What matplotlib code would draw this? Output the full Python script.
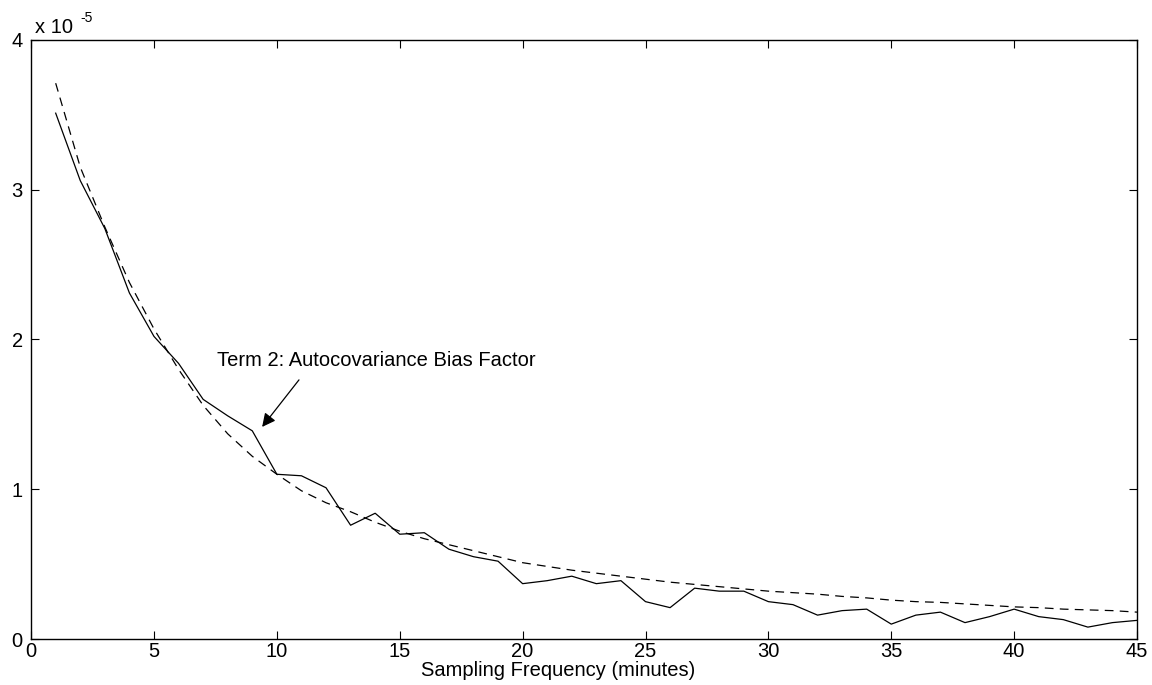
import matplotlib
matplotlib.use('Agg')
import matplotlib.pyplot as plt

plt.rcParams['font.family'] = ['Liberation Sans', 'DejaVu Sans']

# sampling interval in minutes
minutes = list(range(1, 46))

# Term 2 estimate (x 1e-5), solid line
term2 = [3.51, 3.06, 2.74, 2.31, 2.02, 1.84, 1.60, 1.49, 1.39, 1.10,
         1.09, 1.01, 0.76, 0.84, 0.70, 0.71, 0.60, 0.55, 0.52, 0.37,
         0.39, 0.42, 0.37, 0.39, 0.25, 0.21, 0.34, 0.32, 0.32, 0.25,
         0.23, 0.16, 0.19, 0.20, 0.10, 0.16, 0.18, 0.11, 0.15, 0.20,
         0.15, 0.13, 0.08, 0.11, 0.125]

# fitted curve (x 1e-5), dashed line
fitted = [3.71, 3.15, 2.75, 2.38, 2.07, 1.80, 1.56, 1.37, 1.22, 1.10,
          0.99, 0.91, 0.85, 0.78, 0.72, 0.67, 0.63, 0.59, 0.55, 0.51,
          0.485, 0.46, 0.44, 0.42, 0.40, 0.38, 0.365, 0.35, 0.335, 0.32,
          0.31, 0.30, 0.285, 0.275, 0.26, 0.25, 0.245, 0.235, 0.225, 0.215,
          0.21, 0.20, 0.195, 0.19, 0.18]

scale = 1e-5
fs = 14.5

fig = plt.figure(figsize=(11.52, 6.85), dpi=100)
ax = fig.add_axes([0.027, 0.067, 0.960, 0.875])

ax.plot(minutes, [v * scale for v in term2], color='black', lw=0.9)
ax.plot(minutes, [v * scale for v in fitted], color='black', lw=0.9,
        linestyle=(0, (7, 5)))

ax.set_xlim(0, 45)
ax.set_ylim(0, 4e-5)
ax.set_xticks(range(0, 46, 5))
ax.set_yticks([0, 1e-5, 2e-5, 3e-5, 4e-5])
ax.set_yticklabels(['0', '1', '2', '3', '4'])

ax.tick_params(direction='in', top=True, right=True, length=6, width=0.8,
               labelsize=fs)
ax.tick_params(axis='x', pad=2)
ax.tick_params(axis='y', pad=6)
for s in ax.spines.values():
    s.set_linewidth(1.0)

ax.set_xlabel('Sampling Frequency (minutes)', fontsize=fs, labelpad=0)
ax.xaxis.set_label_coords(0.4765, -0.036)

fig.text(0.030, 0.960, 'x 10', fontsize=fs, ha='left', va='center')
fig.text(0.070, 0.973, '-5', fontsize=10, ha='left', va='center')

# label and arrow pointing at the solid curve
ax.text(7.57, 1.823e-5, 'Term 2: Autocovariance Bias Factor',
        fontsize=fs, ha='left', va='baseline')
ax.annotate('', xy=(9.40, 1.416e-5), xytext=(10.9, 1.73e-5),
            arrowprops=dict(arrowstyle='-|>', color='black', lw=0.9,
                            mutation_scale=20, shrinkA=0, shrinkB=0))

fig.savefig('out.png', dpi=100)
